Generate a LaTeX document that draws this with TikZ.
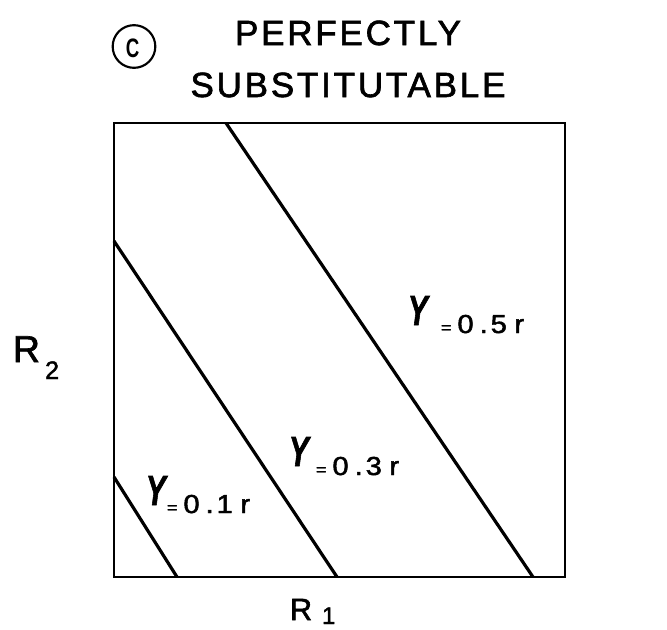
\documentclass[tikz,border=0pt]{standalone}
\usepackage{fontspec}
\setmainfont[FakeBold=1.8]{Liberation Sans}
\newfontfamily\titlefont[LetterSpace=8,FakeBold=1.8]{Liberation Sans}
\newfontfamily\circfont{Liberation Sans}
\newcommand{\Ysym}{\scalebox{0.7}[1]{\bfseries\itshape\fontsize{31.5pt}{32pt}\selectfont Y}}
\newcommand{\eqsym}{{\fontsize{12pt}{12pt}\selectfont =}}
\newcommand{\rlab}[1]{\scalebox{1.12}[1]{\fontsize{19.5pt}{20pt}\selectfont \eqsym\hspace{4pt}0\hspace{4pt}.\hspace{2pt}#1\hspace{5pt}r}}
\begin{document}
\begin{tikzpicture}[x=0.75pt,y=-0.75pt,
  txt/.style={inner sep=0pt,outer sep=0pt},
  boxline/.style={line width=1.9pt},
  iso/.style={line width=2.4pt}]
\useasboundingbox (0,0) rectangle (667,629);
% title
\node[txt,anchor=base] (t1) at (348,45) {\titlefont\fontsize{26.25pt}{30pt}\selectfont PERFECTLY};
\node[txt,anchor=base] (t2) at (348,97) {\titlefont\fontsize{26.25pt}{30pt}\selectfont SUBSTITUTABLE};
\node[circle,draw,line width=1.6pt,minimum size=32pt,inner sep=0pt] (c) at (134,46.5) {};
\node[txt,anchor=base,xscale=0.7] (cl) at (132.5,57) {\circfont\bfseries\fontsize{20pt}{20pt}\selectfont C};
% box
\coordinate (bl) at (114,577);
\coordinate (tr) at (565,123);
\draw[boxline] (bl) rectangle (tr);
% iso lines
\coordinate (a1) at (114,477); \coordinate (b1) at (177,577);
\coordinate (a3) at (114,241); \coordinate (b3) at (337,577);
\coordinate (a5) at (226,123); \coordinate (b5) at (533,577);
\draw[iso] (a1) -- (b1);
\draw[iso] (a3) -- (b3);
\draw[iso] (a5) -- (b5);
% labels
\node[txt,anchor=base west] (y5) at (408,325) {\Ysym};
\node[txt,anchor=base west] (v5) at (441,333) {\rlab{5}};
\node[txt,anchor=base west] (y3) at (289,466) {\Ysym};
\node[txt,anchor=base west] (v3) at (316,475) {\rlab{3}};
\node[txt,anchor=base west] (y1) at (146,505) {\Ysym};
\node[txt,anchor=base west] (v1) at (167,513) {\rlab{1}};
% axis labels
\node[txt,anchor=base west] (r2) at (13,362) {\fontsize{28pt}{30pt}\selectfont R};
\node[txt,anchor=base west] (r2s) at (45,379) {\fontsize{19pt}{20pt}\selectfont 2};
\node[txt,anchor=base west] (r1) at (290,620) {\fontsize{23pt}{25pt}\selectfont R};
\node[txt,anchor=base west] (r1s) at (322,624) {\fontsize{18pt}{20pt}\selectfont 1};
\end{tikzpicture}
\end{document}
